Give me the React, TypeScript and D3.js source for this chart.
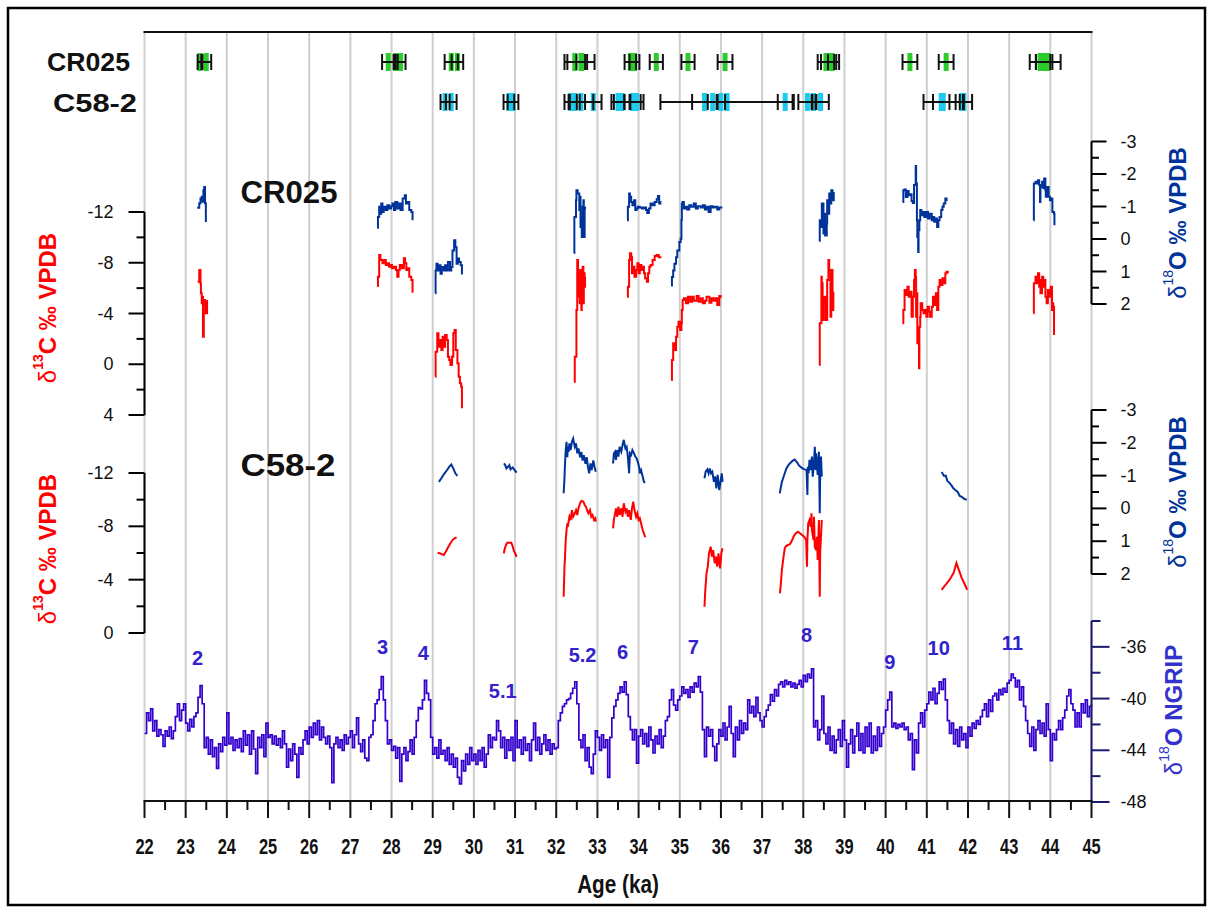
import React from "react";
import * as d3 from "d3";

const W = 1213;
const H = 920;
const FONT = "'Liberation Sans', Arial, sans-serif";

const RED = "#ff0000";
const BLUE = "#003399";
const NG = "#3300cc";

type Pt = [number, number];

// dating results (ka, 2 sigma)
const cr025Dates = [
  { age: 23.35, err: 0.06 }, { age: 23.5, err: 0.12 },
  { age: 27.92, err: 0.15 }, { age: 28.1, err: 0.05 }, { age: 28.22, err: 0.12 },
  { age: 29.45, err: 0.16 }, { age: 29.6, err: 0.14 },
  { age: 32.45, err: 0.25 }, { age: 32.6, err: 0.33 }, { age: 32.62, err: 0.13 },
  { age: 33.8, err: 0.14 }, { age: 33.9, err: 0.12 },
  { age: 34.43, err: 0.16 },
  { age: 35.2, err: 0.16 },
  { age: 36.1, err: 0.18 },
  { age: 38.55, err: 0.2 }, { age: 38.65, err: 0.22 }, { age: 38.7, err: 0.1 },
  { age: 40.59, err: 0.18 },
  { age: 41.47, err: 0.18 },
  { age: 43.75, err: 0.25 }, { age: 43.85, err: 0.2 }, { age: 43.95, err: 0.3 },
];

const c58Dates = [
  { age: 29.3, err: 0.11 }, { age: 29.45, err: 0.13 },
  { age: 30.85, err: 0.13 }, { age: 30.95, err: 0.13 },
  { age: 32.35, err: 0.15 }, { age: 32.45, err: 0.12 }, { age: 32.6, err: 0.3 }, { age: 32.9, err: 0.2 },
  { age: 33.5, err: 0.16 }, { age: 33.6, err: 0.2 }, { age: 33.85, err: 0.2 }, { age: 33.95, err: 0.17 },
  { age: 36.15, err: 1.62 }, { age: 35.6, err: 0.3 }, { age: 35.8, err: 0.12 }, { age: 36.0, err: 0.1 },
  { age: 37.56, err: 0.18 },
  { age: 38.1, err: 0.22 }, { age: 38.25, err: 0.05 }, { age: 38.42, err: 0.2 },
  { age: 41.4, err: 0.48 }, { age: 41.35, err: 0.2 }, { age: 41.9, err: 0.2 }, { age: 41.85, err: 0.05 },
];

// CR025 d18O segments [age, permil]
const cr025O: Pt[][] = [
  [[23.28,-0.96],[23.33,-1.1],[23.36,-1.25],[23.39,-1.3],[23.41,-1.15],[23.43,-1.5],[23.45,-1.6],[23.47,-1.1],[23.49,-0.52]],
  [[27.65,-0.35],[27.67,-0.68],[27.7,-0.99],[27.72,-0.78],[27.75,-1.09],[27.78,-0.83],[27.81,-0.99],[27.86,-0.89],[27.9,-1.04],[27.94,-0.94],[27.99,-1.01],[28.02,-1.09],[28.06,-0.89],[28.09,-1.14],[28.14,-0.94],[28.19,-1.09],[28.22,-0.89],[28.27,-1.25],[28.32,-1.35],[28.35,-1.09],[28.38,-1.14],[28.43,-0.89],[28.48,-0.83],[28.51,-0.58]],
  [[29.06,1.67],[29.07,0.97],[29.09,0.76],[29.12,0.97],[29.16,0.81],[29.19,1.07],[29.22,0.86],[29.27,0.97],[29.3,0.81],[29.34,0.97],[29.37,0.71],[29.42,0.97],[29.45,0.86],[29.48,0.35],[29.52,0.04],[29.55,0.25],[29.58,0.76],[29.61,0.6],[29.64,0.71],[29.68,0.81],[29.71,1.09]],
  [[32.43,0.43],[32.44,-0.68],[32.48,-1.19],[32.49,-1.5],[32.52,-1.4],[32.56,-0.89],[32.57,-1.3],[32.59,-0.37],[32.61,-0.68],[32.62,-0.06],[32.64,-0.99],[32.66,-1.19],[32.67,-0.06],[32.69,-0.94],[32.7,-0.99]],
  [[33.72,-0.58],[33.74,-0.99],[33.77,-1.4],[33.79,-1.3],[33.82,-1.14],[33.85,-1.04],[33.89,-1.19],[33.92,-0.89],[33.95,-0.94],[33.98,-0.99],[34.03,-0.97],[34.08,-0.94],[34.13,-0.97],[34.18,-0.89],[34.21,-0.8],[34.25,-0.94],[34.29,-1.09],[34.34,-1.04],[34.39,-1.14],[34.44,-1.22],[34.47,-1.32],[34.5,-1.09],[34.53,-1.17]],
  [[34.79,1.43],[34.81,1.17],[34.84,0.97],[34.87,0.76],[34.91,0.56],[34.94,0.35],[34.99,0.09],[35.02,-0.01],[35.04,-0.58],[35.05,-1.09],[35.07,-1.14],[35.1,-0.94],[35.13,-0.99],[35.18,-0.91],[35.23,-1.04],[35.28,-0.99],[35.34,-1.09],[35.39,-0.94],[35.44,-1.01],[35.51,-0.97],[35.56,-1.04],[35.61,-0.91],[35.65,-0.99],[35.7,-0.83],[35.75,-1.01],[35.8,-0.97],[35.85,-0.99],[35.91,-0.91],[35.96,-0.97],[36.01,-0.94]],
  [[38.39,0.06],[38.4,-0.58],[38.44,-0.37],[38.45,-1.09],[38.49,-0.17],[38.5,-0.78],[38.53,-0.11],[38.57,-0.48],[38.58,-1.19],[38.61,-0.78],[38.63,-1.4],[38.66,-1.09],[38.68,-1.5],[38.71,-1.19],[38.74,-1.45]],
  [[40.41,-1.14],[40.43,-1.5],[40.46,-1.52],[40.49,-1.29],[40.53,-1.48],[40.56,-1.35],[40.59,-1.38],[40.63,-1.17],[40.66,-1.11],[40.69,-1.66],[40.73,-2.25],[40.74,-1.71],[40.76,-0.58],[40.77,-0.06],[40.79,0.4],[40.8,-0.27],[40.82,-0.58],[40.84,-0.89],[40.87,-0.73],[40.9,-0.83],[40.94,-0.68],[40.98,-0.83],[41.03,-0.63],[41.07,-0.78],[41.12,-0.58],[41.15,-0.68],[41.18,-0.53],[41.21,-0.63],[41.25,-0.37],[41.28,-0.58],[41.31,-0.68],[41.35,-0.89],[41.38,-0.99],[41.41,-1.09],[41.45,-1.25],[41.48,-1.17]],
  [[43.59,-0.58],[43.6,-1.71],[43.64,-1.76],[43.67,-1.71],[43.7,-1.81],[43.73,-1.66],[43.75,-1.14],[43.76,-1.6],[43.8,-1.76],[43.83,-1.56],[43.85,-1.86],[43.88,-1.5],[43.89,-1.3],[43.93,-1.6],[43.96,-1.3],[43.99,-1.19],[44.02,-1.25],[44.05,-0.83],[44.09,-0.78],[44.1,-0.42]],
];

// CR025 d13C segments
const cr025C: Pt[][] = [
  [[23.29,-6.51],[23.33,-7.43],[23.36,-6.39],[23.37,-5.6],[23.39,-4.8],[23.41,-5.32],[23.42,-2.17],[23.44,-5.06],[23.47,-4.8],[23.49,-4.01],[23.52,-5.06]],
  [[27.65,-6.17],[27.67,-6.9],[27.7,-8.61],[27.73,-8.22],[27.78,-7.96],[27.81,-8.22],[27.86,-7.82],[27.9,-7.96],[27.94,-7.69],[27.98,-7.82],[28.01,-7.56],[28.06,-7.69],[28.11,-7.43],[28.14,-6.9],[28.17,-7.43],[28.2,-7.82],[28.25,-7.56],[28.3,-8.35],[28.33,-7.96],[28.36,-7.43],[28.4,-7.56],[28.43,-6.9],[28.48,-6.64],[28.51,-5.64]],
  [[29.06,0.98],[29.07,-0.99],[29.11,-2.44],[29.14,-1.38],[29.17,-1.91],[29.21,-1.12],[29.24,-2.17],[29.27,-1.38],[29.3,-2.31],[29.34,-1.91],[29.37,-0.59],[29.4,-0.33],[29.43,0.06],[29.47,-0.59],[29.5,-2.44],[29.53,-2.7],[29.56,-1.12],[29.6,-0.08],[29.63,0.98],[29.66,1.5],[29.69,1.77],[29.71,3.47]],
  [[32.43,1.38],[32.45,-0.59],[32.48,-0.59],[32.49,-4.28],[32.51,-8.22],[32.53,-7.43],[32.54,-5.32],[32.56,-6.9],[32.57,-4.8],[32.59,-7.43],[32.61,-4.28],[32.62,-6.9],[32.64,-7.69],[32.66,-4.8],[32.67,-7.17],[32.69,-6.11],[32.7,-6.9]],
  [[33.72,-5.32],[33.74,-6.11],[33.77,-8.22],[33.79,-8.74],[33.82,-8.48],[33.84,-7.17],[33.87,-7.69],[33.9,-6.9],[33.94,-7.43],[33.97,-7.96],[34.0,-7.17],[34.03,-7.82],[34.07,-7.43],[34.1,-7.69],[34.13,-7.17],[34.16,-6.77],[34.2,-6.51],[34.23,-7.17],[34.26,-7.69],[34.29,-7.82],[34.34,-8.22],[34.39,-8.53],[34.44,-8.61],[34.49,-8.43],[34.53,-8.35]],
  [[34.79,1.24],[34.81,-0.33],[34.84,-1.65],[34.87,-1.12],[34.91,-2.17],[34.94,-2.96],[34.97,-3.35],[35.01,-2.7],[35.04,-3.22],[35.05,-4.28],[35.07,-5.06],[35.1,-5.2],[35.15,-4.8],[35.2,-5.32],[35.25,-4.93],[35.3,-5.32],[35.34,-5.01],[35.41,-5.38],[35.46,-4.93],[35.51,-5.2],[35.56,-4.8],[35.61,-5.01],[35.65,-5.32],[35.72,-4.85],[35.77,-5.2],[35.82,-5.01],[35.87,-5.2],[35.91,-4.67],[35.96,-5.38],[35.99,-5.2]],
  [[38.39,0.06],[38.4,-3.23],[38.44,-6.9],[38.45,-6.38],[38.47,-3.49],[38.5,-5.32],[38.53,-4.8],[38.55,-3.49],[38.58,-6.64],[38.61,-8.22],[38.63,-7.43],[38.66,-3.75],[38.68,-7.43],[38.71,-4.28],[38.73,-5.72]],
  [[40.41,-3.23],[40.43,-4.28],[40.46,-5.85],[40.49,-5.46],[40.53,-6.11],[40.56,-5.32],[40.59,-5.72],[40.63,-3.75],[40.66,-5.32],[40.69,-6.64],[40.71,-7.43],[40.73,-6.9],[40.74,-3.75],[40.76,-5.59],[40.77,-1.65],[40.79,-2.7],[40.81,0.32],[40.82,-2.96],[40.84,-3.75],[40.85,-4.8],[40.89,-4.28],[40.92,-4.01],[40.95,-4.28],[40.99,-3.75],[41.02,-4.54],[41.05,-4.15],[41.08,-3.75],[41.12,-4.54],[41.15,-5.32],[41.18,-4.67],[41.22,-5.59],[41.25,-4.28],[41.28,-6.11],[41.31,-6.64],[41.35,-6.25],[41.38,-6.77],[41.41,-6.38],[41.45,-7.17],[41.48,-7.3],[41.51,-7.17]],
  [[43.59,-4.01],[43.6,-6.38],[43.64,-6.9],[43.67,-6.38],[43.7,-7.17],[43.73,-6.11],[43.75,-6.64],[43.76,-5.59],[43.8,-6.9],[43.83,-6.11],[43.85,-6.64],[43.88,-5.32],[43.91,-4.8],[43.94,-5.85],[43.98,-5.32],[44.01,-6.11],[44.04,-4.28],[44.05,-4.8],[44.07,-4.54],[44.09,-2.3]],
];

// C58-2 d18O segments
const c58O: Pt[][] = [
  [[29.15,-0.81],[29.21,-0.92],[29.26,-1.02],[29.3,-1.09],[29.35,-1.17],[29.4,-1.27],[29.45,-1.34],[29.5,-1.22],[29.55,-1.07],[29.6,-0.99]],
  [[30.73,-1.37],[30.76,-1.32],[30.79,-1.22],[30.83,-1.27],[30.86,-1.32],[30.89,-1.19],[30.94,-1.25],[30.99,-1.17],[31.04,-1.09]],
  [[32.18,-0.46],[32.2,-0.92],[32.21,-1.27],[32.23,-1.78],[32.25,-2.03],[32.27,-1.56],[32.28,-1.88],[32.3,-1.72],[32.32,-1.98],[32.35,-1.78],[32.38,-2.03],[32.41,-2.13],[32.45,-1.88],[32.48,-1.98],[32.51,-1.68],[32.54,-1.83],[32.58,-1.56],[32.61,-1.72],[32.64,-1.46],[32.67,-1.62],[32.71,-1.36],[32.74,-1.56],[32.77,-1.27],[32.8,-1.07],[32.83,-1.37],[32.86,-1.17],[32.9,-1.46],[32.93,-1.27],[32.96,-1.12]],
  [[33.38,-1.37],[33.4,-1.68],[33.43,-1.73],[33.45,-1.48],[33.48,-1.78],[33.51,-1.58],[33.54,-1.88],[33.58,-1.73],[33.61,-1.93],[33.64,-2.09],[33.68,-1.83],[33.71,-1.88],[33.74,-1.58],[33.77,-1.07],[33.79,-1.68],[33.82,-1.63],[33.85,-1.78],[33.89,-1.68],[33.92,-1.58],[33.95,-1.53],[33.98,-1.42],[34.01,-1.27],[34.03,-1.07],[34.06,-1.17],[34.09,-1.02],[34.13,-0.81],[34.16,-0.78]],
  [[35.6,-0.92],[35.63,-1.12],[35.67,-1.19],[35.7,-1.07],[35.73,-1.22],[35.76,-1.07],[35.79,-1.12],[35.83,-0.81],[35.86,-0.97],[35.89,-0.61],[35.92,-1.02],[35.96,-0.56],[35.99,-0.81],[36.02,-1.07],[36.04,-0.81]],
  [[37.43,-0.46],[37.45,-0.61],[37.48,-0.81],[37.51,-0.92],[37.55,-1.07],[37.59,-1.22],[37.64,-1.32],[37.69,-1.39],[37.74,-1.45],[37.79,-1.49],[37.84,-1.42],[37.89,-1.32],[37.93,-1.27],[37.98,-1.22],[38.03,-1.19],[38.08,-1.17],[38.1,-0.41],[38.11,-1.27],[38.13,-1.07],[38.15,-1.48],[38.18,-1.17],[38.21,-1.58],[38.23,-0.97],[38.26,-1.38],[38.28,-1.88],[38.3,-1.17],[38.31,-1.68],[38.35,-1.02],[38.36,-1.38],[38.38,-1.73],[38.4,0.15],[38.41,-1.07],[38.43,-1.58],[38.45,-0.97]],
  [[41.36,-1.11],[41.42,-0.99],[41.46,-1.0],[41.5,-0.84],[41.55,-0.78],[41.6,-0.7],[41.64,-0.62],[41.7,-0.55],[41.75,-0.5],[41.8,-0.38],[41.85,-0.35],[41.9,-0.3],[41.97,-0.26]],
];

// C58-2 d13C segments
const c58C: Pt[][] = [
  [[29.12,-6.02],[29.17,-5.98],[29.22,-5.92],[29.27,-5.85],[29.3,-6.02],[29.34,-6.22],[29.38,-6.47],[29.43,-6.73],[29.48,-6.97],[29.53,-7.1],[29.58,-7.18]],
  [[30.73,-5.98],[30.74,-6.22],[30.78,-6.6],[30.81,-6.77],[30.86,-6.77],[30.91,-6.77],[30.94,-6.52],[30.97,-6.17],[31.0,-5.98],[31.04,-5.72]],
  [[32.18,-2.72],[32.2,-4.97],[32.21,-5.47],[32.23,-6.97],[32.25,-7.72],[32.27,-8.23],[32.28,-7.97],[32.32,-8.72],[32.35,-8.47],[32.38,-9.22],[32.41,-8.72],[32.45,-8.98],[32.48,-9.22],[32.51,-8.85],[32.54,-9.35],[32.58,-9.73],[32.61,-9.9],[32.66,-9.85],[32.69,-9.6],[32.72,-9.47],[32.75,-9.22],[32.78,-8.98],[32.82,-9.22],[32.85,-8.72],[32.88,-8.85],[32.92,-8.47],[32.95,-8.6],[32.96,-8.35]],
  [[33.38,-7.85],[33.4,-8.48],[33.43,-8.98],[33.45,-9.35],[33.48,-8.72],[33.51,-9.47],[33.54,-8.85],[33.58,-9.35],[33.61,-8.72],[33.64,-9.73],[33.68,-9.1],[33.71,-9.35],[33.74,-8.72],[33.77,-9.22],[33.81,-8.48],[33.84,-9.35],[33.87,-9.85],[33.9,-9.22],[33.94,-8.72],[33.97,-8.98],[34.0,-8.48],[34.03,-8.6],[34.06,-8.23],[34.1,-7.72],[34.13,-7.48],[34.16,-7.18]],
  [[35.6,-1.97],[35.62,-3.22],[35.65,-4.48],[35.68,-4.97],[35.71,-5.98],[35.75,-6.47],[35.78,-5.72],[35.81,-6.22],[35.85,-5.22],[35.88,-5.72],[35.91,-4.97],[35.94,-5.98],[35.98,-4.85],[36.01,-5.98],[36.04,-6.35]],
  [[37.43,-2.98],[37.45,-3.47],[37.48,-4.72],[37.51,-5.47],[37.55,-6.35],[37.58,-6.52],[37.63,-6.6],[37.68,-6.67],[37.73,-6.97],[37.77,-7.27],[37.82,-7.48],[37.87,-7.6],[37.92,-7.48],[37.97,-7.35],[38.02,-7.22],[38.07,-6.97],[38.09,-4.97],[38.1,-6.97],[38.12,-8.23],[38.15,-8.47],[38.18,-7.97],[38.2,-8.98],[38.21,-7.72],[38.25,-6.97],[38.26,-8.72],[38.28,-6.47],[38.31,-6.22],[38.33,-7.22],[38.35,-5.47],[38.36,-6.47],[38.38,-8.47],[38.4,-2.72],[38.41,-5.98],[38.45,-8.47]],
  [[41.36,-3.23],[41.45,-3.6],[41.55,-3.98],[41.65,-4.5],[41.72,-5.25],[41.78,-4.72],[41.85,-4.12],[41.93,-3.6],[41.98,-3.23]],
];

// NGRIP d18O, 50-yr steps from 22.00 ka to 45.00 ka (one row per ka)
const ngripStart = 22;
const ngripStep = 0.05;
const ngripValues = [
  -42.7,-41.1,-41.7,-40.8,-42.5,-41.7,-42.9,-42.4,-42.8,-43.7,-42.5,-42.9,-42.2,-43.1,-42.5,-41.4,-40.4,-41.7,-40.9,-40.4,
  -41.9,-42.5,-41.6,-42.2,-41.4,-41.1,-39.9,-39.0,-40.4,-43.8,-43.0,-44.3,-43.2,-44.5,-43.8,-45.4,-43.5,-44.1,-43.0,-43.6,
  -41.1,-43.5,-43.0,-44.0,-43.2,-43.8,-43.1,-44.1,-42.5,-43.6,-42.8,-44.3,-42.5,-43.9,-45.8,-43.0,-43.8,-42.8,-44.5,-41.9,
  -43.0,-42.8,-43.5,-42.9,-43.6,-43.1,-43.8,-42.5,-43.5,-45.3,-43.9,-44.8,-43.5,-44.3,-46.1,-43.8,-44.3,-43.2,-42.5,-43.5,
  -42.2,-43.0,-41.9,-42.8,-41.7,-43.2,-42.2,-43.0,-43.5,-42.9,-43.8,-46.5,-43.5,-43.0,-43.8,-43.2,-44.0,-42.8,-43.5,-43.0,
  -42.5,-43.8,-42.8,-41.5,-43.5,-44.1,-43.2,-44.6,-44.8,-43.0,-42.8,-41.7,-40.4,-40.1,-39.3,-38.3,-40.1,-41.7,-43.5,-43.2,
  -44.0,-43.7,-44.6,-43.8,-46.4,-44.3,-43.8,-44.8,-44.1,-43.2,-44.3,-43.0,-41.7,-40.7,-40.8,-40.1,-38.6,-39.6,-40.1,-43.0,
  -44.3,-43.8,-44.6,-43.2,-44.3,-44.0,-44.8,-43.8,-45.1,-44.3,-45.3,-44.6,-46.1,-46.6,-44.8,-45.6,-44.3,-45.1,-43.8,-44.8,
  -44.3,-45.1,-44.0,-44.8,-43.8,-45.3,-44.3,-42.8,-43.8,-43.0,-43.2,-41.7,-42.5,-43.8,-43.0,-44.6,-43.2,-44.0,-43.0,-44.8,
  -41.7,-43.8,-43.2,-44.3,-43.0,-44.0,-43.5,-44.8,-43.2,-41.9,-44.0,-43.0,-44.3,-43.5,-42.8,-44.0,-43.2,-44.3,-43.5,-43.9,
  -43.8,-41.7,-41.1,-40.6,-40.4,-40.1,-40.0,-39.6,-39.2,-38.7,-40.4,-43.2,-43.8,-42.8,-44.8,-43.8,-45.3,-45.8,-44.3,-42.5,
  -43.0,-44.0,-42.8,-43.8,-43.2,-46.1,-43.0,-41.5,-40.6,-40.1,-39.6,-39.1,-39.5,-38.7,-39.7,-41.4,-42.4,-43.2,-42.4,-45.0,
  -42.9,-42.4,-43.5,-42.7,-43.7,-42.2,-43.2,-44.2,-42.9,-43.5,-42.4,-43.8,-42.9,-41.7,-41.4,-40.1,-39.3,-40.5,-40.9,-40.1,
  -39.8,-39.1,-39.6,-39.3,-39.9,-39.1,-39.5,-38.8,-39.1,-38.3,-39.5,-42.4,-44.5,-42.2,-42.9,-42.4,-43.7,-44.8,-43.5,-42.4,
  -42.9,-41.9,-43.2,-42.2,-40.6,-42.7,-44.5,-42.2,-43.2,-41.7,-42.7,-41.9,-42.4,-40.1,-41.1,-40.6,-41.4,-39.9,-41.1,-41.7,
  -42.2,-41.4,-40.9,-40.5,-39.7,-40.2,-39.3,-39.8,-38.9,-38.7,-39.1,-38.6,-38.9,-38.7,-39.1,-38.8,-39.2,-38.9,-38.6,-39.1,
  -38.2,-38.7,-38.1,-38.4,-37.7,-42.2,-41.7,-43.2,-42.4,-39.8,-42.7,-43.5,-42.2,-44.0,-42.9,-44.2,-43.2,-42.4,-43.7,-41.7,
  -43.2,-45.3,-43.5,-42.4,-44.2,-42.9,-41.9,-44.0,-42.7,-44.2,-42.2,-43.7,-41.9,-44.2,-42.9,-44.0,-42.2,-43.7,-42.7,-42.2,
  -40.9,-40.1,-39.5,-42.2,-41.9,-42.3,-42.0,-42.2,-41.9,-42.4,-42.2,-43.2,-42.7,-45.5,-43.2,-44.2,-41.9,-41.1,-42.2,-40.9,
  -40.4,-39.5,-40.1,-39.2,-40.4,-39.6,-38.7,-39.3,-38.5,-40.1,-41.7,-42.7,-41.9,-43.5,-42.4,-43.7,-42.2,-43.2,-42.7,-43.8,
  -42.2,-42.9,-41.9,-42.3,-41.7,-42.0,-41.4,-40.9,-40.4,-41.4,-40.1,-41.0,-39.8,-39.6,-40.1,-39.3,-39.7,-39.2,-39.5,-38.8,
  -38.6,-38.1,-38.4,-39.1,-38.6,-40.1,-39.1,-40.6,-41.7,-42.7,-43.7,-42.2,-44.0,-42.4,-41.7,-42.7,-41.9,-42.9,-40.4,-42.4,
  -44.8,-42.7,-43.2,-42.4,-41.7,-42.4,-41.5,-40.9,-39.8,-39.3,-40.4,-40.9,-42.2,-41.1,-42.2,-40.4,-41.1,-40.1,-41.4,-40.6,
  -40.4,
];

// Dansgaard-Oeschger event labels: [label, age, NGRIP value at label centre]
const doLabels: [string, number, number][] = [
  ["2", 23.29, -36.9], ["3", 27.78, -36.0], ["4", 28.77, -36.5], ["5.1", 30.7, -39.4],
  ["5.2", 32.64, -36.6], ["6", 33.61, -36.4], ["7", 35.33, -36.0], ["8", 38.08, -35.1],
  ["9", 40.1, -37.2], ["10", 41.29, -36.1], ["11", 43.08, -35.7],
];

const c13TicksTop = [-12, -8, -4, 0, 4];
const c13MinorTop = [-10, -6, -2, 2];
const c13TicksBot = [-12, -8, -4, 0];
const c13MinorBot = [-10, -6, -2];
const o18Ticks = [-3, -2, -1, 0, 1, 2];
const o18Minor = [-2.5, -1.5, -0.5, 0.5, 1.5];
const ngTicks = [-36, -40, -44, -48];
const ngMinor = [-34, -38, -42, -46];

export default function App() {
  const x = d3.scaleLinear().domain([22, 45]).range([144.5, 1091.5]);
  const yCtop = d3.scaleLinear().domain([-12, 4]).range([212, 415]);
  const yOtop = d3.scaleLinear().domain([-3, 2]).range([141.5, 304]);
  const yCbot = d3.scaleLinear().domain([-12, 0]).range([473, 633]);
  const yObot = d3.scaleLinear().domain([-3, 2]).range([410, 574]);
  const yNg = d3.scaleLinear().domain([-48, -34]).range([802, 621]);

  const xLeft = x(22);
  const xRight = x(45);
  const ageTicks = x.ticks(23);
  const ageMinor = d3.range(22.5, 45, 1);

  const segPath = (y: d3.ScaleLinear<number, number>, curve: d3.CurveFactory) =>
    d3.line<Pt>().x((d) => x(d[0])).y((d) => y(d[1])).curve(curve);

  const ngData: Pt[] = ngripValues.map((v, i) => [ngripStart + i * ngripStep, v]);
  const ngLine = segPath(yNg, d3.curveStepAfter);

  const leftAxis = (y: d3.ScaleLinear<number, number>, major: number[], minor: number[]) => {
    const [a, b] = y.domain();
    return (
      <g>
        <line x1={xLeft} x2={xLeft} y1={y(a)} y2={y(b)} stroke="#000" strokeWidth={2} />
        {major.map((t) => (
          <g key={t}>
            <line x1={xLeft - 16} x2={xLeft} y1={y(t)} y2={y(t)} stroke="#000" strokeWidth={2} />
            <text x={xLeft - 31} y={y(t)} textAnchor="end" dominantBaseline="central" fontSize={18} fill="#111">{String(t)}</text>
          </g>
        ))}
        {minor.map((t) => (
          <line key={t} x1={xLeft - 8} x2={xLeft} y1={y(t)} y2={y(t)} stroke="#000" strokeWidth={2} />
        ))}
      </g>
    );
  };

  const rightAxis = (y: d3.ScaleLinear<number, number>, major: number[], minor: number[], color: string, len: number) => {
    const [a, b] = y.domain();
    return (
      <g>
        <line x1={xRight} x2={xRight} y1={y(a)} y2={y(b)} stroke={color} strokeWidth={2} />
        {major.map((t) => (
          <g key={t}>
            <line x1={xRight} x2={xRight + len} y1={y(t)} y2={y(t)} stroke={color} strokeWidth={2} />
            <text x={xRight + 29} y={y(t)} dominantBaseline="central" fontSize={18} fill="#111">{String(t)}</text>
          </g>
        ))}
        {minor.map((t) => (
          <line key={t} x1={xRight} x2={xRight + len / 2} y1={y(t)} y2={y(t)} stroke={color} strokeWidth={2} />
        ))}
      </g>
    );
  };

  const datingRow = (dates: { age: number; err: number }[], yc: number, fill: string) => (
    <g>
      {dates.map((d, i) => (
        <rect key={"r" + i} x={x(d.age) - 2.5} y={yc - 9} width={5} height={18} fill={fill} />
      ))}
      {dates.map((d, i) => (
        <g key={"e" + i} stroke="#111" strokeWidth={2}>
          <line x1={x(d.age - d.err)} x2={x(d.age + d.err)} y1={yc} y2={yc} />
          <line x1={x(d.age - d.err)} x2={x(d.age - d.err)} y1={yc - 8} y2={yc + 8} />
          <line x1={x(d.age + d.err)} x2={x(d.age + d.err)} y1={yc - 8} y2={yc + 8} />
        </g>
      ))}
    </g>
  );

  const c13Label = (cx: number, cy: number) => (
    <text transform={`translate(${cx},${cy}) rotate(-90)`} textAnchor="middle" dominantBaseline="central" fontSize={24} fontWeight="bold" fill={RED}>
      <tspan fontWeight="normal">δ</tspan>
      <tspan fontSize={14} dy={-9}>13</tspan>
      <tspan dy={9}>C ‰ VPDB</tspan>
    </text>
  );

  const o18Label = (cx: number, cy: number, rest: string, color: string) => (
    <text transform={`translate(${cx},${cy}) rotate(-90)`} textAnchor="middle" dominantBaseline="central" fontSize={24} fontWeight="bold" fill={color}>
      <tspan fontWeight="normal">δ</tspan>
      <tspan fontSize={14} fontWeight="normal" dy={-9}>18</tspan>
      <tspan dy={9}>{rest}</tspan>
    </text>
  );

  return (
    <svg width={W} height={H} style={{ position: "absolute", left: 0, top: 0, background: "#fff" }} fontFamily={FONT}>
      <rect x={0} y={0} width={W} height={H} fill="#fff" />
      <rect x={8} y={8} width={1197} height={897} fill="none" stroke="#000" strokeWidth={2.5} />

      {/* vertical grid */}
      {ageTicks.map((t) => (
        <line key={t} x1={x(t)} x2={x(t)} y1={32} y2={801} stroke="#cfcfcf" strokeWidth={2} />
      ))}
      <line x1={xLeft - 1} x2={xRight + 1} y1={32} y2={32} stroke="#111" strokeWidth={2} />

      {/* dating */}
      <text x={130} y={62} textAnchor="end" dominantBaseline="central" fontSize={26} fontWeight="bold" fill="#111" textLength={83} lengthAdjust="spacingAndGlyphs">CR025</text>
      <text x={137} y={103} textAnchor="end" dominantBaseline="central" fontSize={26} fontWeight="bold" fill="#111" textLength={84} lengthAdjust="spacingAndGlyphs">C58-2</text>
      {datingRow(cr025Dates, 62, "#2dcc2d")}
      {datingRow(c58Dates, 102, "#1ccbf0")}

      {/* CR025 */}
      <text x={289} y={192} textAnchor="middle" dominantBaseline="central" fontSize={31} fontWeight="bold" fill="#111" textLength={97} lengthAdjust="spacingAndGlyphs">CR025</text>
      {cr025O.map((s, i) => (
        <path key={i} d={segPath(yOtop, d3.curveStepAfter)(s) || ""} fill="none" stroke={BLUE} strokeWidth={2} />
      ))}
      {cr025C.map((s, i) => (
        <path key={i} d={segPath(yCtop, d3.curveStepAfter)(s) || ""} fill="none" stroke={RED} strokeWidth={2} />
      ))}

      {/* C58-2 */}
      <text x={288} y={465} textAnchor="middle" dominantBaseline="central" fontSize={31} fontWeight="bold" fill="#111" textLength={95} lengthAdjust="spacingAndGlyphs">C58-2</text>
      {c58O.map((s, i) => (
        <path key={i} d={segPath(yObot, d3.curveLinear)(s) || ""} fill="none" stroke={BLUE} strokeWidth={2} />
      ))}
      {c58C.map((s, i) => (
        <path key={i} d={segPath(yCbot, d3.curveLinear)(s) || ""} fill="none" stroke={RED} strokeWidth={2} />
      ))}

      {/* NGRIP */}
      <path d={ngLine(ngData) || ""} fill="none" stroke={NG} strokeWidth={1.7} />
      {doLabels.map(([l, a, v]) => (
        <text key={l} x={x(a)} y={yNg(v)} textAnchor="middle" dominantBaseline="central" fontSize={20} fontWeight="bold" fill="#3322cc">{l}</text>
      ))}

      {/* axes */}
      {leftAxis(yCtop, c13TicksTop, c13MinorTop)}
      {leftAxis(yCbot, c13TicksBot, c13MinorBot)}
      {rightAxis(yOtop, o18Ticks, o18Minor, "#000", 15)}
      {rightAxis(yObot, o18Ticks, o18Minor, "#000", 15)}
      {rightAxis(yNg, ngTicks, ngMinor, "#1a1a70", 18)}

      {c13Label(47, 308)}
      {c13Label(47, 549)}
      {o18Label(1177, 223, "O ‰ VPDB", BLUE)}
      {o18Label(1177, 492, "O ‰ VPDB", BLUE)}
      {o18Label(1173, 710, "O NGRIP", "#3333cc")}

      {/* age axis */}
      <line x1={xLeft - 1} x2={xRight + 1} y1={801} y2={801} stroke="#111" strokeWidth={2} />
      {ageTicks.map((t) => (
        <g key={t}>
          <line x1={x(t)} x2={x(t)} y1={801} y2={818} stroke="#111" strokeWidth={2} />
          <text transform={`translate(${x(t)},846) scale(0.82,1.12)`} textAnchor="middle" dominantBaseline="central" fontSize={20} fontWeight="bold" fill="#111">{String(t)}</text>
        </g>
      ))}
      {ageMinor.map((t) => (
        <line key={t} x1={x(t)} x2={x(t)} y1={801} y2={810} stroke="#111" strokeWidth={2} />
      ))}
      <text transform="translate(618,884) scale(0.9,1.1)" textAnchor="middle" dominantBaseline="central" fontSize={23} fontWeight="bold" fill="#111">Age (ka)</text>
    </svg>
  );
}
